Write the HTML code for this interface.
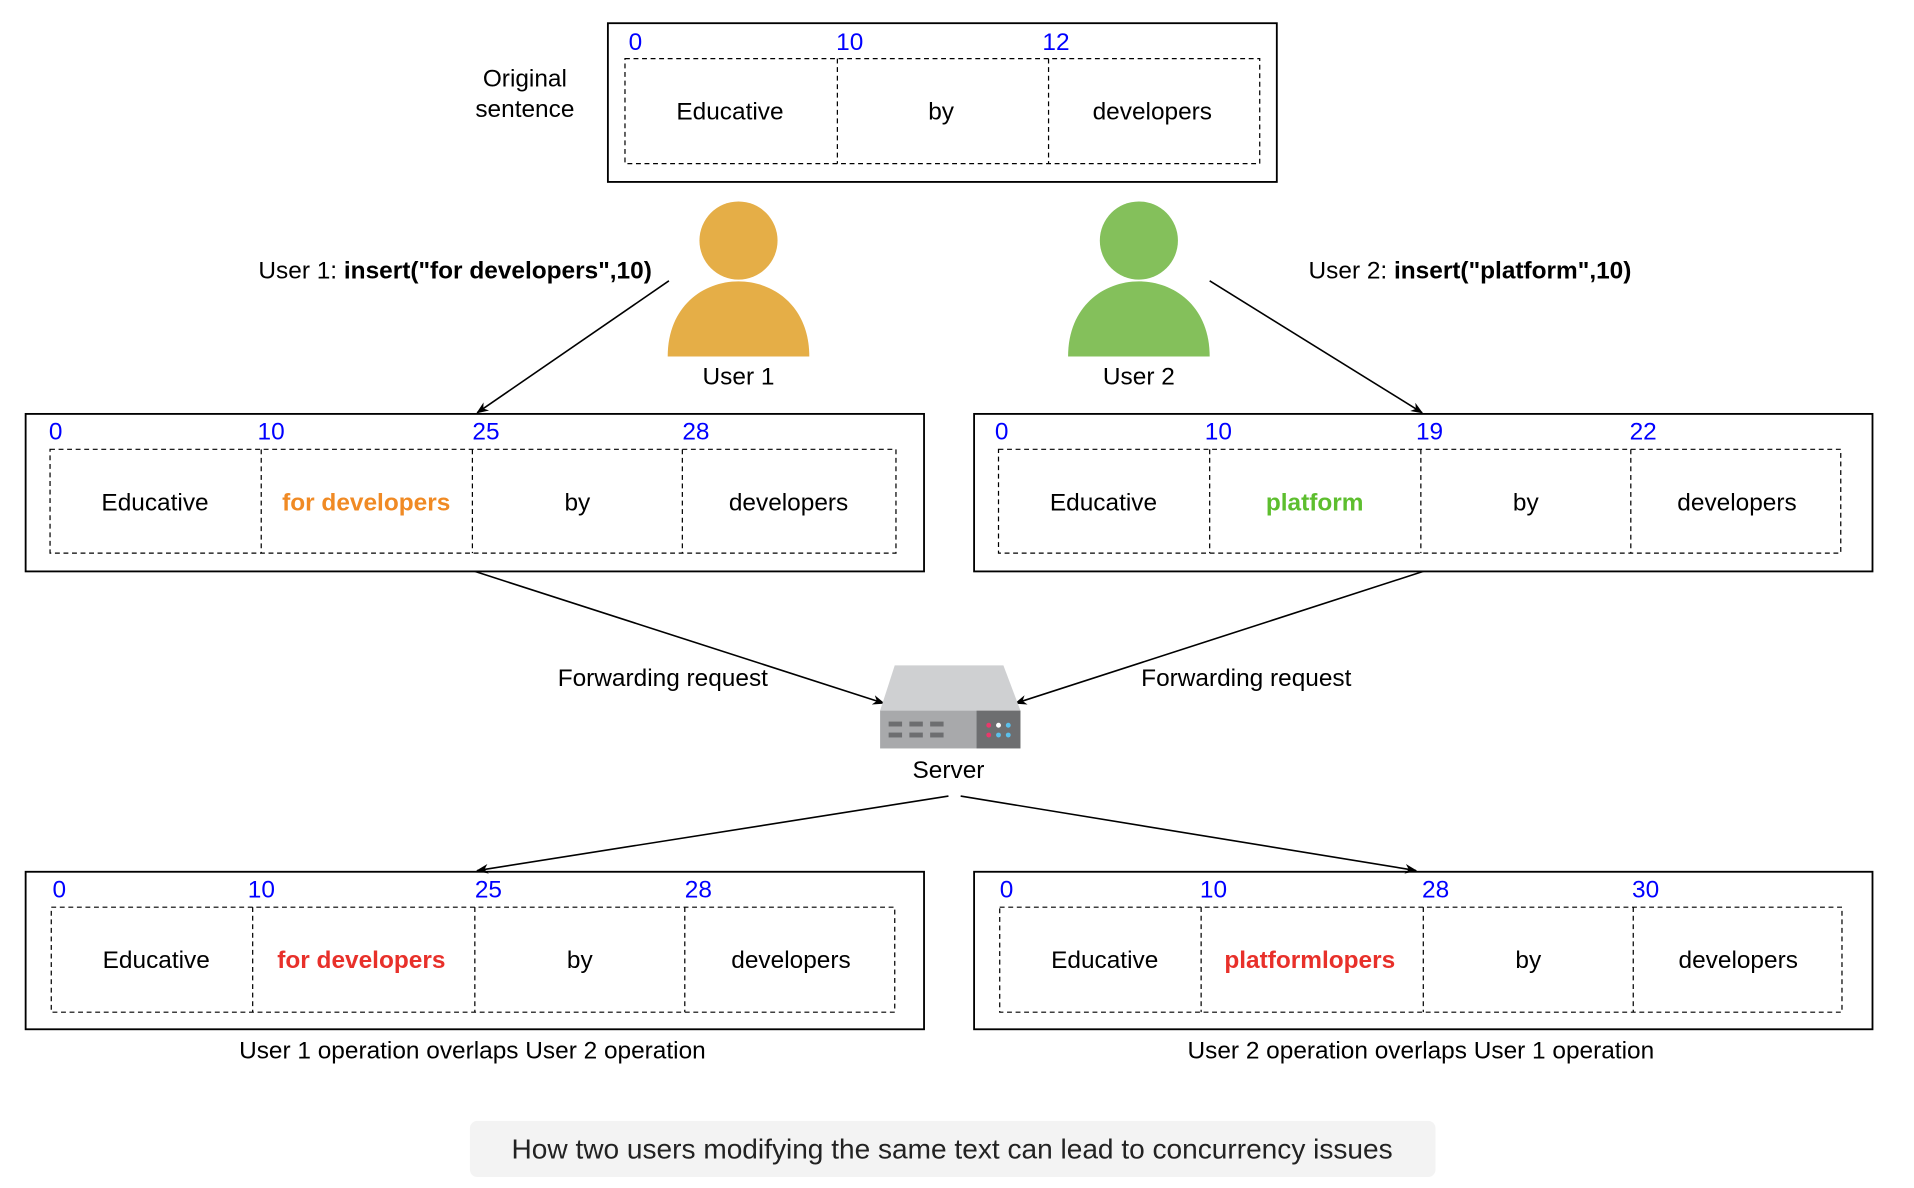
<!DOCTYPE html>
<html><head><meta charset="utf-8"><style>html,body{margin:0;padding:0;background:#fff}svg{display:block}text{font-family:"Liberation Sans",Arial,sans-serif}</style></head>
<body>
<svg width="1914" height="1188" viewBox="0 0 1568 973" preserveAspectRatio="none" xmlns="http://www.w3.org/2000/svg">
<defs><marker id="a" markerWidth="10" markerHeight="10" refX="9" refY="5" orient="auto" markerUnits="userSpaceOnUse"><path d="M0,1 L10,5 L0,9 L3,5 z" fill="#000"/></marker></defs>
<g font-size="20" text-anchor="middle" fill="#000">
<rect x="498" y="19" width="548" height="130" fill="none" stroke="#000" stroke-width="1.5"/>
<rect x="512" y="48" width="520" height="86" fill="none" stroke="#000" stroke-dasharray="4,3"/>
<line x1="686" y1="48" x2="686" y2="134" stroke="#000" stroke-dasharray="4,3"/>
<line x1="859" y1="48" x2="859" y2="134" stroke="#000" stroke-dasharray="4,3"/>
<g fill="#0000ff" text-anchor="start"><text x="515" y="41">0</text><text x="685" y="41">10</text><text x="854" y="41">12</text></g>
<text x="598" y="98">Educative</text><text x="771" y="98">by</text><text x="944" y="98">developers</text>
<text x="430" y="71">Original</text><text x="430" y="96">sentence</text>
<circle cx="605" cy="197" r="32" fill="#E5AE47"/>
<path d="M547,292 C547,210 663,210 663,292 Z" fill="#E5AE47"/>
<circle cx="933" cy="197" r="32" fill="#84C05B"/>
<path d="M875,292 C875,210 991,210 991,292 Z" fill="#84C05B"/>
<text x="605" y="315">User 1</text><text x="933" y="315">User 2</text>
<text x="534" y="228" text-anchor="end">User 1: <tspan font-weight="bold">insert("for developers",10)</tspan></text>
<text x="1072" y="228" text-anchor="start">User 2: <tspan font-weight="bold">insert("platform",10)</tspan></text>
<line x1="548" y1="230" x2="391" y2="338" stroke="#000" stroke-width="1.3" marker-end="url(#a)"/>
<line x1="991" y1="230" x2="1165" y2="338" stroke="#000" stroke-width="1.3" marker-end="url(#a)"/>
<rect x="21" y="339" width="736" height="129" fill="none" stroke="#000" stroke-width="1.5"/>
<rect x="41" y="368" width="693" height="85" fill="none" stroke="#000" stroke-dasharray="4,3"/>
<g stroke="#000" stroke-dasharray="4,3"><line x1="214" y1="368" x2="214" y2="453"/><line x1="387" y1="368" x2="387" y2="453"/><line x1="559" y1="368" x2="559" y2="453"/></g>
<g fill="#0000ff" text-anchor="start"><text x="40" y="360">0</text><text x="211" y="360">10</text><text x="387" y="360">25</text><text x="559" y="360">28</text></g>
<text x="127" y="418">Educative</text><text x="300" y="418" fill="#F08A24" font-weight="bold">for developers</text><text x="473" y="418">by</text><text x="646" y="418">developers</text>
<rect x="798" y="339" width="736" height="129" fill="none" stroke="#000" stroke-width="1.5"/>
<rect x="818" y="368" width="690" height="85" fill="none" stroke="#000" stroke-dasharray="4,3"/>
<g stroke="#000" stroke-dasharray="4,3"><line x1="991" y1="368" x2="991" y2="453"/><line x1="1164" y1="368" x2="1164" y2="453"/><line x1="1336" y1="368" x2="1336" y2="453"/></g>
<g fill="#0000ff" text-anchor="start"><text x="815" y="360">0</text><text x="987" y="360">10</text><text x="1160" y="360">19</text><text x="1335" y="360">22</text></g>
<text x="904" y="418">Educative</text><text x="1077" y="418" fill="#5DBE2E" font-weight="bold">platform</text><text x="1250" y="418">by</text><text x="1423" y="418">developers</text>
<line x1="389" y1="468" x2="724" y2="576" stroke="#000" stroke-width="1.3" marker-end="url(#a)"/>
<line x1="1166" y1="468" x2="832" y2="576" stroke="#000" stroke-width="1.3" marker-end="url(#a)"/>
<text x="543" y="562">Forwarding request</text><text x="1021" y="562">Forwarding request</text>
<path d="M733,545 L822,545 L836,582 L721,582 Z" fill="#CFD0D2"/>
<rect x="721" y="582" width="79" height="31" fill="#A8A9AB"/>
<rect x="800" y="582" width="36" height="31" fill="#6D6E70"/>
<g fill="#6D6E70"><rect x="728" y="591" width="11" height="4"/><rect x="745" y="591" width="11" height="4"/><rect x="762" y="591" width="11" height="4"/><rect x="728" y="600" width="11" height="4"/><rect x="745" y="600" width="11" height="4"/><rect x="762" y="600" width="11" height="4"/></g>
<circle cx="810" cy="594" r="2" fill="#E8396B"/><circle cx="818" cy="594" r="2" fill="#fff"/><circle cx="826" cy="594" r="2" fill="#5BC0EB"/>
<circle cx="810" cy="602" r="2" fill="#E8396B"/><circle cx="818" cy="602" r="2" fill="#5BC0EB"/><circle cx="826" cy="602" r="2" fill="#5BC0EB"/>
<text x="777" y="637">Server</text>
<line x1="777" y1="652" x2="391" y2="713" stroke="#000" stroke-width="1.3" marker-end="url(#a)"/>
<line x1="787" y1="652" x2="1160" y2="713" stroke="#000" stroke-width="1.3" marker-end="url(#a)"/>
<rect x="21" y="714" width="736" height="129" fill="none" stroke="#000" stroke-width="1.5"/>
<rect x="42" y="743" width="691" height="86" fill="none" stroke="#000" stroke-dasharray="4,3"/>
<g stroke="#000" stroke-dasharray="4,3"><line x1="207" y1="743" x2="207" y2="829"/><line x1="389" y1="743" x2="389" y2="829"/><line x1="561" y1="743" x2="561" y2="829"/></g>
<g fill="#0000ff" text-anchor="start"><text x="43" y="735">0</text><text x="203" y="735">10</text><text x="389" y="735">25</text><text x="561" y="735">28</text></g>
<text x="128" y="793">Educative</text><text x="296" y="793" fill="#E8302A" font-weight="bold">for developers</text><text x="475" y="793">by</text><text x="648" y="793">developers</text>
<rect x="798" y="714" width="736" height="129" fill="none" stroke="#000" stroke-width="1.5"/>
<rect x="819" y="743" width="690" height="86" fill="none" stroke="#000" stroke-dasharray="4,3"/>
<g stroke="#000" stroke-dasharray="4,3"><line x1="984" y1="743" x2="984" y2="829"/><line x1="1166" y1="743" x2="1166" y2="829"/><line x1="1338" y1="743" x2="1338" y2="829"/></g>
<g fill="#0000ff" text-anchor="start"><text x="819" y="735">0</text><text x="983" y="735">10</text><text x="1165" y="735">28</text><text x="1337" y="735">30</text></g>
<text x="905" y="793">Educative</text><text x="1073" y="793" fill="#E8302A" font-weight="bold">platformlopers</text><text x="1252" y="793">by</text><text x="1424" y="793">developers</text>
<text x="387" y="867">User 1 operation overlaps User 2 operation</text>
<text x="1164" y="867">User 2 operation overlaps User 1 operation</text>
<rect x="385" y="918" width="791" height="46" rx="6" fill="#F3F3F3"/>
<text x="780" y="949" font-size="23" fill="#222">How two users modifying the same text can lead to concurrency issues</text>
</g>
</svg>
</body></html>
